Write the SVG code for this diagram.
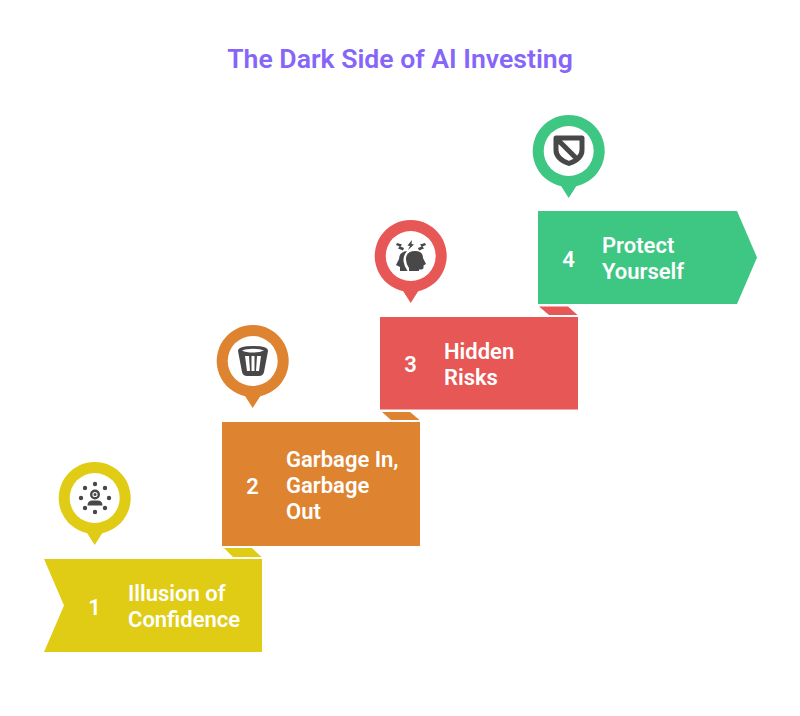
<svg xmlns="http://www.w3.org/2000/svg" width="800" height="716" viewBox="0 0 800 716">
<style>
text{font-family:Roboto,"Liberation Sans",sans-serif;font-weight:600}
.t{fill:#fff;font-size:22px}
.n{fill:#fff;font-size:22px;text-anchor:middle}
.i{fill:#484848}
.w{fill:#fff}
.title{fill:#8566f8;font-size:26.6px;text-anchor:middle}
</style>
<defs>
<path id="pin" d="M-7.500 35.200A36 36 0 1 1 7.500 35.200L0 47Z"/>
</defs>
<rect width="800" height="716" fill="#fff"/>
<text class="title" x="400" y="67.500">The Dark Side of AI Investing</text>
<g id="connectors">
<polygon fill="#e0cc15" points="224,548 252,548 261.500,557 233,557"/>
<polygon fill="#de832f" points="382,412 410,412 419.500,420 391,420"/>
<polygon fill="#e75755" points="539,306.500 568,306.500 577.500,315 549,315"/>
</g>
<g id="node1">
<polygon fill="#e0cc15" points="44,559 262,559 262,652 44,652 64,605.500"/>
<text class="n" x="94.500" y="614.500">1</text>
<text class="t"><tspan x="128" y="601">Illusion of</tspan><tspan x="128" y="627">Confidence</tspan></text>
<use href="#pin" x="94.700" y="498" fill="#e0cc15"/>
<circle class="w" cx="94.700" cy="498" r="25"/>
<g class="i">
<circle cx="95" cy="484" r="2.200"/><circle cx="105" cy="488" r="2.200"/><circle cx="109" cy="498" r="2.200"/><circle cx="105" cy="508" r="2.200"/><circle cx="95" cy="512" r="2.200"/><circle cx="85" cy="508" r="2.200"/><circle cx="81" cy="498" r="2.200"/><circle cx="85" cy="488" r="2.200"/>
<circle cx="95" cy="494.500" r="3.800" fill="none" stroke="#484848" stroke-width="2.400"/>
<circle cx="95" cy="494.500" r="1.500"/>
<path d="M87.500 505.500Q87.500 500.500 92.500 500.500H97.500Q102.500 500.500 102.500 505.500Z"/>
</g>
</g>
<g id="node2">
<rect x="222" y="422" width="198" height="124" fill="#de832f"/>
<text class="n" x="252.500" y="493.500">2</text>
<text class="t"><tspan x="286" y="467">Garbage In,</tspan><tspan x="286" y="493">Garbage</tspan><tspan x="286" y="519">Out</tspan></text>
<use href="#pin" x="252.700" y="361" fill="#de832f"/>
<circle class="w" cx="252.700" cy="361" r="25"/>
<path class="i" fill-rule="evenodd" d="M238 351Q238 346 253 346Q268 346 268 351L264 372Q263 376 259 376H247Q243 376 242 372ZM242 350.500Q246 352.500 253 352.500Q260 352.500 264 350.500Q260 348.800 253 348.800Q246 348.800 242 350.500ZM245 356L247 371H250L249 356ZM251.500 356V371H254.500V356ZM257 356L256 371H259L261 356Z"/>
</g>
<g id="node3">
<rect x="380" y="317" width="198" height="92.500" fill="#e75755"/>
<text class="n" x="410.500" y="372">3</text>
<text class="t"><tspan x="444" y="358.500">Hidden</tspan><tspan x="444" y="384.500">Risks</tspan></text>
<use href="#pin" x="410.700" y="256" fill="#e75755"/>
<circle class="w" cx="410.700" cy="256" r="25"/>
<g class="i">
<path d="M400 271V267L396 265L399 259Q399 252 407 251Q403 256 403.500 261Q404 266 407.500 271Z"/>
<path d="M409 271V268Q405.500 263 406 258Q407 251 415 251Q423 251 423 258L426 264L423.500 265.500V268Q423 270 419 269.500V271Z"/>
<path d="M397 243L402 244.500L400.500 246.500L404 248L403 250.500L398 248.500L399.500 246.500L396 245Z"/>
<path d="M412 240L407.500 245.500L410 246L408 250L414 244.500L411.500 244Z"/>
<path d="M425 243L420 244.500L421.500 246.500L418 248L419 250.500L424 248.500L422.500 246.500L426 245Z"/>
</g>
</g>
<g id="node4">
<polygon fill="#3ec683" points="538,211 737,211 757,257.500 737,304 538,304"/>
<text class="n" x="568.500" y="266.500">4</text>
<text class="t"><tspan x="602" y="253">Protect</tspan><tspan x="602" y="279">Yourself</tspan></text>
<use href="#pin" x="568.700" y="151" fill="#3ec683"/>
<circle class="w" cx="568.700" cy="151" r="25"/>
<path d="M556 138H582V150Q582 159 569 163.500Q556 159 556 150ZM557 139L578 160" fill="none" stroke="#484848" stroke-width="5" stroke-linejoin="round"/>
</g>
</svg>
